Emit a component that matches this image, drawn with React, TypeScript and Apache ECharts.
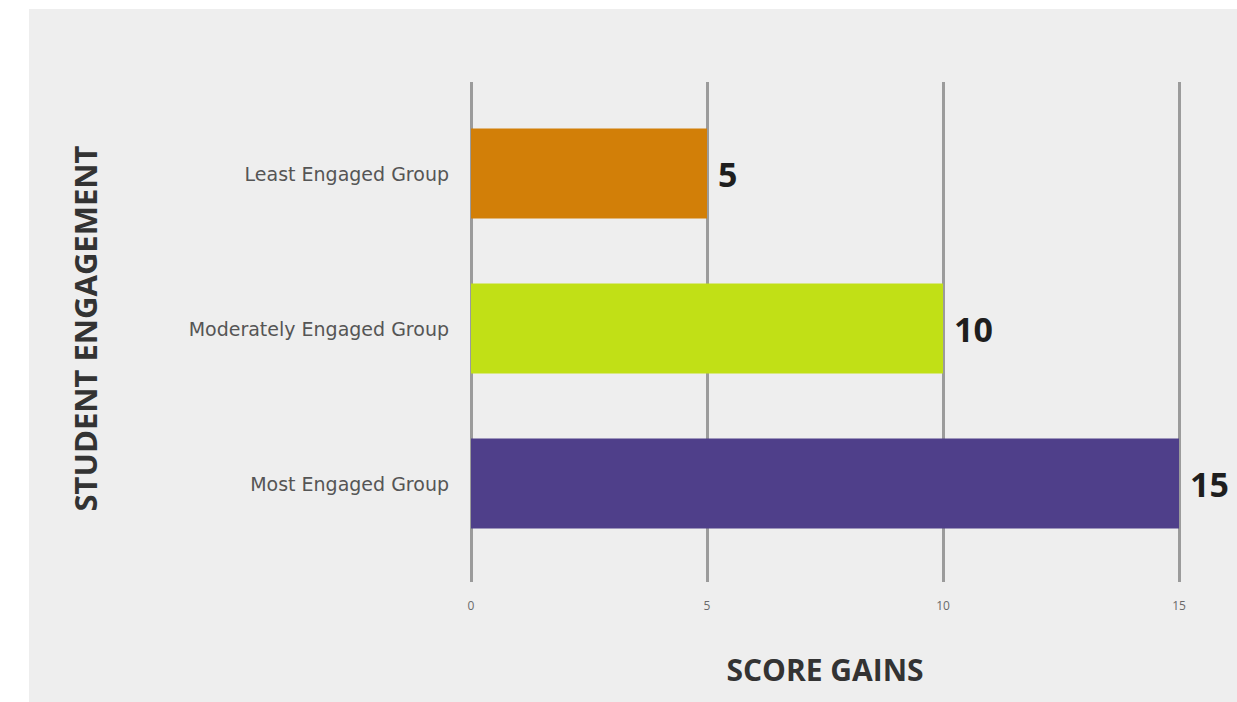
import React, { useEffect, useRef } from "react";
import * as echarts from "echarts";

const categories = ["Least Engaged Group", "Moderately Engaged Group", "Most Engaged Group"];
const scoreGains = [5, 10, 15];
const barColors = ["#d27f08", "#c1e016", "#4f3f8a"];
const xTicks = [0, 5, 10, 15];

export default function App() {
  const ref = useRef<HTMLDivElement>(null);
  useEffect(() => {
    const chart = echarts.init(ref.current!, null, { renderer: "svg" });
    chart.setOption({
      animation: false,
      backgroundColor: "#ffffff",
      graphic: [
        {
          type: "rect",
          z: -10,
          shape: { x: 29, y: 9, width: 1208, height: 693 },
          style: { fill: "#eeeeee" },
        },
      ],
      grid: [
        { left: 471, right: 58, top: 82, height: 500 },
        { left: 471, right: 58, top: 96, height: 465 },
      ],
      xAxis: [
        {
          type: "value",
          gridIndex: 0,
          min: xTicks[0],
          max: xTicks[xTicks.length - 1],
          interval: 5,
          axisLine: { show: false },
          axisTick: { show: false },
          splitLine: { show: true, lineStyle: { color: "#9b9b9b", width: 3 } },
          axisLabel: { fontSize: 12, color: "#6a6a6a", margin: 17, fontFamily: "Open Sans" },
          name: "SCORE GAINS",
          nameLocation: "middle",
          nameGap: 72,
          nameTextStyle: { fontSize: 30, fontWeight: "bold", color: "#333333", fontFamily: "Open Sans" },
        },
        {
          type: "value",
          gridIndex: 1,
          min: 0,
          max: 15,
          show: false,
          splitLine: { show: false },
        },
      ],
      yAxis: [
        { type: "value", gridIndex: 0, min: 0, max: 1, show: false, splitLine: { show: false } },
        {
          type: "category",
          gridIndex: 1,
          data: categories,
          inverse: true,
          axisLine: { show: false },
          axisTick: { show: false },
          axisLabel: { fontSize: 19, color: "#555555", margin: 22, fontFamily: "DejaVu Sans" },
          name: "STUDENT ENGAGEMENT",
          nameLocation: "middle",
          nameRotate: 90,
          nameGap: 371,
          nameTextStyle: { fontSize: 31, fontWeight: "bold", color: "#333333", fontFamily: "Open Sans" },
        },
      ],
      series: [
        {
          type: "bar",
          xAxisIndex: 1,
          yAxisIndex: 1,
          barWidth: 90,
          data: scoreGains.map((v, i) => ({ value: v, itemStyle: { color: barColors[i] } })),
          label: {
            show: true,
            position: "right",
            distance: 11,
            fontSize: 34,
            fontWeight: "bold",
            color: "#1e1e1e",
            fontFamily: "Open Sans",
          },
        },
      ],
    });
    return () => chart.dispose();
  }, []);
  return (
    <div
      ref={ref}
      style={{ position: "absolute", left: 0, top: 0, width: 1237, height: 702 }}
    />
  );
}
